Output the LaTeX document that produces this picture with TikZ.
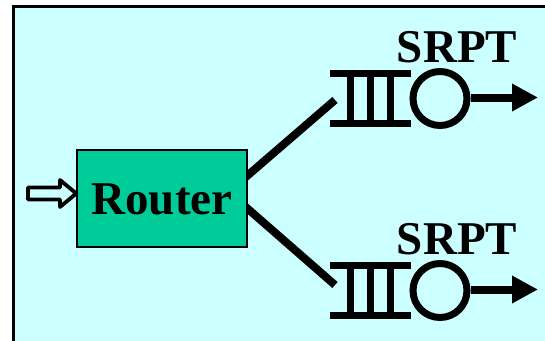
\documentclass[tikz,border=0pt]{standalone}
\usepackage{fontspec}
\setmainfont{Liberation Serif}
\usetikzlibrary{arrows.meta}
\definecolor{bgcyan}{RGB}{204,255,255}
\definecolor{routergreen}{RGB}{0,204,153}
\begin{document}
\begin{tikzpicture}[x=1pt,y=-1pt,
  bigtext/.style={font=\fontsize{47}{47}\selectfont\bfseries},
  routerbox/.style={draw=black,line width=1.5pt,fill=routergreen,
    minimum width=170pt,minimum height=97pt,inner sep=0pt,
    text height=31pt,text depth=0pt,bigtext},
  link/.style={line width=8pt},
  qbar/.style={line width=7pt},
  server/.style={circle,draw=black,line width=7pt,minimum size=54pt,inner sep=0pt},
  outarrow/.style={line width=8pt,-{Triangle[length=26pt,width=26pt]}},
  inarrow/.style={draw=black,line width=3.8pt,line join=round},
  frame/.style={draw=black,line width=2.5pt,fill=bgcyan}
]
\useasboundingbox (0,0) rectangle (545,340);
\clip (0,0) rectangle (545,340);

% panel
\draw[frame] (13.5,6.5) rectangle (570,370);

% two SRPT queues, each with its server and outgoing arrow
\foreach \i/\c in {1/98.5,2/290.5}{
  \draw[qbar] (330,\c-25) -- (411,\c-25)
              (330,\c+25) -- (411,\c+25);
  \foreach \x in {350,370,390}
    \draw[qbar] (\x,\c-25) -- (\x,\c+25);
  \node[server] (s\i) at (440,\c) {};
  \coordinate (out\i) at (538,\c-1);
  \draw[outarrow] (s\i.east |- out\i) -- (out\i);
  \node[bigtext,anchor=base,inner sep=0pt] (lab\i) at (457,\c-36.5) {SRPT};
}
\coordinate (q1) at (335,100);
\coordinate (q2) at (335,285);

% links from the router to the queues (router drawn on top)
\coordinate (rt) at (240,182);
\coordinate (rb) at (240,202);
\draw[link] (rt) -- (q1);
\draw[link] (rb) -- (q2);

\node[routerbox] (router) at (162,198.5) {Router};

% hollow input arrow
\draw[inarrow] (28,187.5) -- (60,187.5) -- (60,180) -- (router.west |- 0,193.5)
  -- (60,207) -- (60,199.5) -- (28,199.5) -- cycle;
\end{tikzpicture}
\end{document}
